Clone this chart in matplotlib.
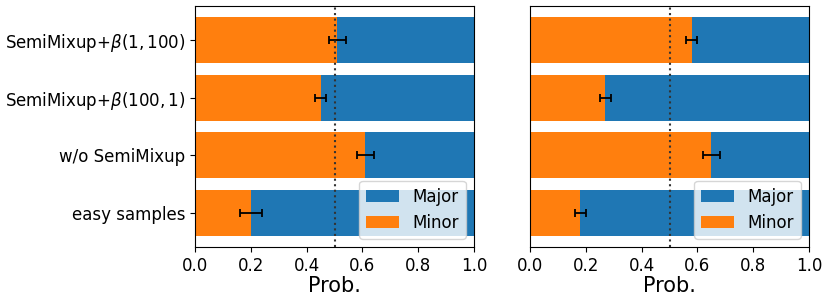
import matplotlib
matplotlib.use("Agg")
import matplotlib.pyplot as plt
import numpy as np

categories = ["easy samples", "w/o SemiMixup",
              "SemiMixup+$\\beta(100, 1)$", "SemiMixup+$\\beta(1, 100)$"]
major_total = [1.0, 1.0, 1.0, 1.0]
left_minor = [0.20, 0.61, 0.45, 0.51]
left_err = [0.04, 0.03, 0.02, 0.03]
right_minor = [0.18, 0.65, 0.27, 0.58]
right_err = [0.02, 0.03, 0.02, 0.02]

fig = plt.figure(figsize=(8.31, 3.05), dpi=100)
ax1 = fig.add_axes([195/831, 58/305, 279/831, 241/305])
ax2 = fig.add_axes([530/831, 58/305, 279/831, 241/305])

y = np.arange(len(categories))
for ax, minor, err in [(ax1, left_minor, left_err), (ax2, right_minor, right_err)]:
    ax.barh(y, major_total, color="#1f77b4", label="Major")
    ax.barh(y, minor, color="#ff7f0e", label="Minor")
    ax.errorbar(minor, y, xerr=err, fmt="none", ecolor="black", capsize=3,
                elinewidth=1.3, capthick=1.3)
    ax.axvline(0.5, color="#333333", linestyle=":", linewidth=1.5)
    ax.set_xlim(0, 1)
    ax.set_xticks([0, 0.2, 0.4, 0.6, 0.8, 1.0])
    ax.tick_params(axis="x", labelsize=12)
    ax.set_xlabel("Prob.", fontsize=15, labelpad=1)
    ax.legend(loc="lower right", fontsize=12)

ax1.set_yticks(y)
ax1.set_yticklabels(categories, fontsize=12)
ax2.set_yticks([])

fig.savefig("out.png", dpi=100)
